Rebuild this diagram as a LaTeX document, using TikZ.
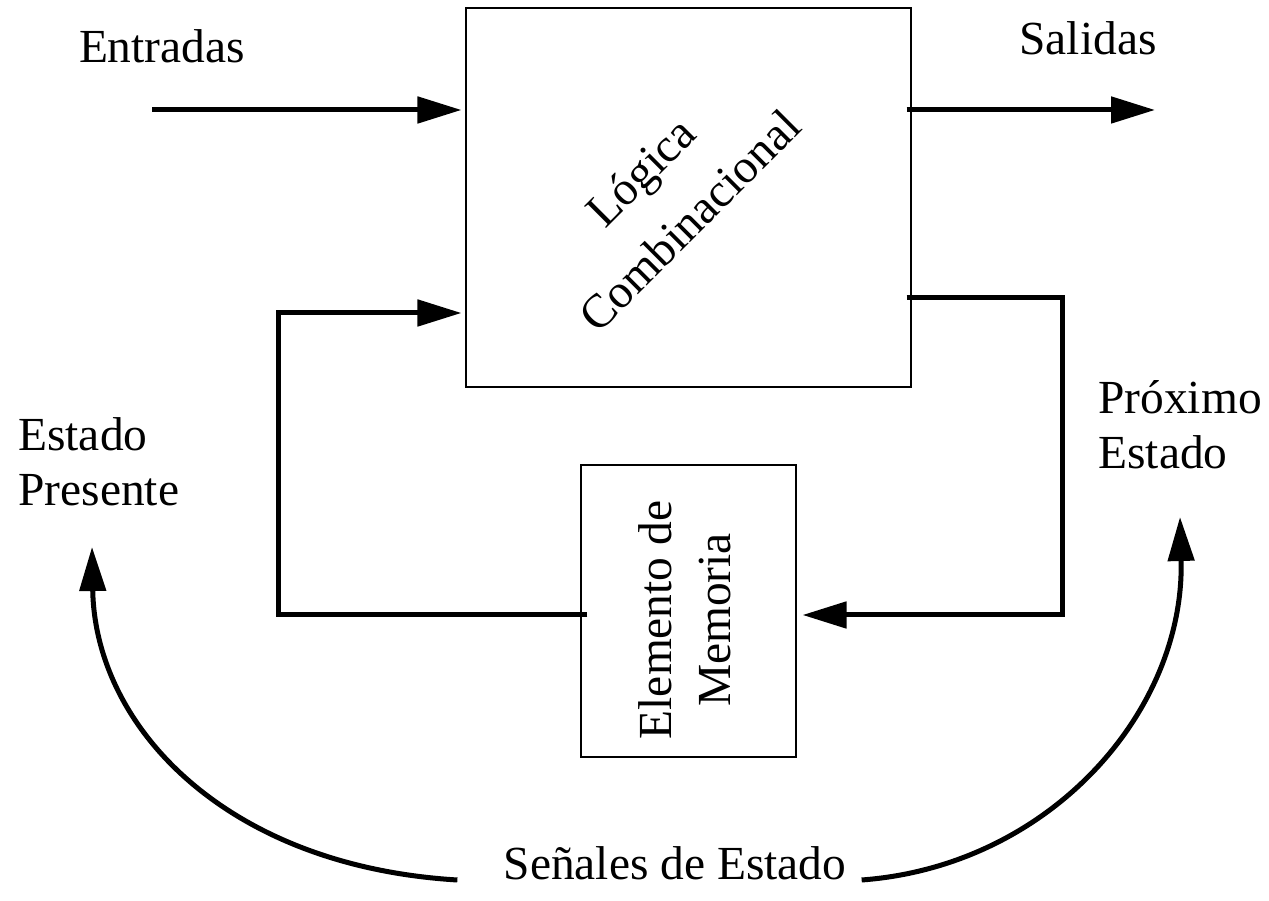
\documentclass[tikz,border=0pt]{standalone}
\usepackage{fontspec}
\setmainfont{Liberation Serif}
\usepackage{tikz}
\usetikzlibrary{arrows.meta, positioning}

\tikzset{
  bloque/.style={draw, line width=0.6pt},
  flecha/.style={line width=2.85pt, -{Triangle[length=0.88cm, width=0.52cm]}},
  texto/.style={font=\fontsize{27}{31.3}\selectfont, align=left, inner sep=0pt},
  girado/.style={texto, font=\fontsize{27}{33.5}\selectfont, align=center}
}

\begin{document}
\begin{tikzpicture}
                \useasboundingbox (0,0) rectangle (25.38,18.02);
                \node[bloque, minimum width=8.9cm, minimum height=7.58cm] (comb) at (13.77,14.07) {};
                \node[bloque, minimum width=4.3cm, minimum height=5.84cm] (mem) at (13.77,5.8) {};
                \node[girado, rotate=45] (logica) at (13.3,14.1) {Lógica\\[6pt]Combinacional};
                \node[girado, rotate=90] (elemento) at (13.7,5.62) {Elemento de\\Memoria};
                \node[texto] (entradas) at (3.24,17.1) {Entradas};
                \node[texto] (salidas) at (21.76,17.26) {Salidas};
                \node[texto, anchor=west] (presente) at (0.36,8.78) {Estado\\Presente};
                \node[texto, anchor=west] (proximo) at (21.96,9.52) {Próximo\\Estado};
                \node[texto, anchor=base] (senales) at (13.5,0.42) {Señales de Estado};
                % puntos de las lineas
                \coordinate (ent) at (3.04,15.82);
                \coordinate (sal) at (23.1,15.82);
                \coordinate (pe) at (21.24,12.06);
                \coordinate (pa) at (21.24,5.72);
                \coordinate (ia) at (5.56,5.72);
                \coordinate (ie) at (5.56,11.76);
                \coordinate (ptip) at (1.84,7.08);
                \coordinate (ntip) at (23.6,7.68);
                \draw[flecha, shorten >=0.08cm] (ent) -- (ent -| comb.west);
                \draw[flecha] ([xshift=-0.1cm]sal -| comb.east) -- (sal);
                \draw[flecha, shorten >=0.12cm] ([xshift=-0.1cm]comb.east |- pe) -- (pe) -- (pa) -- (mem.east |- pa);
                \draw[flecha, shorten >=0.08cm] ([xshift=0.14cm]mem.west |- ia) -- (ia) -- (ie) -- (comb.west |- ie);
                \draw[flecha] ([xshift=-0.92cm]senales.base west) .. controls (4.5,0.7) and (1.9,3.5) .. (ptip);
                \draw[flecha] ([xshift=0.3cm]senales.base east) .. controls (21,0.7) and (23.7,3.8) .. (ntip);
            \end{tikzpicture}
\end{document}
